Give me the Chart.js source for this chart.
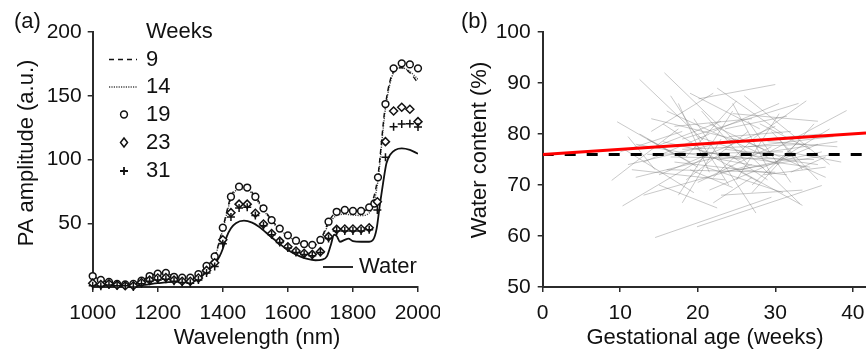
<!DOCTYPE html>
<html>
<head>
<meta charset="utf-8">
<script src="https://cdn.jsdelivr.net/npm/chart.js@4.4.0/dist/chart.umd.min.js"></script>
<style>
html, body { margin: 0; padding: 0; background: #fff; }
#wrap { position: relative; width: 866px; height: 352px; overflow: hidden; }
#boxA { position: absolute; left: 0; top: 0; width: 440px; height: 352px; }
#boxB { position: absolute; left: 440px; top: 0; width: 426px; height: 352px; }
</style>
</head>
<body>
<div id="wrap">
  <div id="boxA"><canvas id="chartA"></canvas></div>
  <div id="boxB"><canvas id="chartB"></canvas></div>
</div>
<script>
// ---- Panel (a): PA spectra ----
const wavelengths = [1000, 1025, 1050, 1075, 1100, 1125, 1150, 1175, 1200, 1225, 1250, 1275, 1300, 1325, 1350, 1375,
    1400, 1425, 1450, 1475, 1500, 1525, 1550, 1575, 1600, 1625, 1650, 1675, 1700, 1725, 1750, 1775, 1800, 1825, 1850,
    1875, 1900, 1925, 1950, 1975, 2000];
const weekLabels = ['9', '14', '19', '23', '31'];
const xTicksA = [1000, 1200, 1400, 1600, 1800, 2000];
const yTicksA = [50, 100, 150, 200];

const week9 = [8.6, 5.5, 4, 2.5, 2, 2.5, 5, 8.6, 10.5, 11, 8, 7.3, 7.3, 10, 16.5, 24,
    46.5, 70.8, 78.7, 78, 70.8, 61.7, 52.5, 45.8, 40.5, 36.3, 33.7, 33, 36.9, 51.2, 59, 60.4, 59.6, 59.6, 62.5,
    84, 143, 169, 172, 168, 160];
const week14 = [8, 5, 3.5, 2.5, 2, 2.5, 4.5, 8, 10, 10.5, 7.5, 7, 7, 9.5, 16, 23.5,
    45, 69, 77, 76.5, 69.5, 60.5, 51.5, 45, 40, 36, 33, 32.5, 36, 49, 56, 57, 56.5, 56, 58,
    80, 140, 168, 172, 169, 163];

// week 19 has two samples around 1870 nm
const wavelengths19 = [1000, 1025, 1050, 1075, 1100, 1125, 1150, 1175, 1200, 1225, 1250, 1275, 1300, 1325, 1350, 1375,
    1400, 1425, 1450, 1475, 1500, 1525, 1550, 1575, 1600, 1625, 1650, 1675, 1700, 1725, 1750, 1775, 1800, 1825, 1850,
    1866, 1877, 1900, 1925, 1950, 1975, 2000];
const week19 = [8.6, 5.5, 4, 2.5, 2, 2.5, 5, 8.6, 10.5, 11, 8, 7.3, 7.3, 10, 16.5, 24,
    46.5, 70.8, 78.7, 78, 70.8, 61.7, 52.5, 45.8, 40.5, 36.3, 33.7, 33, 36.9, 51.2, 59, 60.4, 59.6, 59.6, 62.5,
    65.5, 86, 143.5, 171.5, 175.4, 174.6, 171.5];
const week23 = [3, 2, 2.5, 1.5, 1, 1, 3.5, 5.5, 7, 7.5, 5.5, 4.5, 4.5, 7, 13, 19,
    37, 58.3, 65, 65, 57.8, 49.4, 42, 36, 31.6, 28.2, 26.4, 25.6, 27.7, 39.5, 45.2, 45.5, 45.5, 45.5, 46.5,
    66.9, 114, 138, 141, 139.4, 129.7];
const week31 = [1, 0.5, 1.5, 1, 1, 0, 2.5, 4.5, 5.5, 6, 4.5, 3.5, 3, 5.5, 11, 16,
    34, 55, 62, 62.5, 56, 48, 41, 35, 30.5, 27, 25.5, 24.5, 27, 38, 44, 44, 44, 44, 45,
    60.4, 101.7, 125.7, 127.8, 128, 125.5];

const waterWavelengths = [1000, 1050, 1100, 1150, 1200, 1250, 1300, 1325, 1350, 1362, 1375, 1390, 1400, 1412, 1425,
    1440, 1465, 1490, 1510, 1550, 1600, 1637, 1660, 1685, 1705, 1720, 1732, 1742, 1750, 1760, 1775, 1786, 1800, 1825,
    1850, 1862, 1873, 1883, 1893, 1903, 1915, 1930, 1950, 1975, 2000];
const water = [2, 1.5, 1, 1.5, 3, 4, 4, 6, 12, 14.6, 18, 24, 30, 39.5, 46,
    50, 52, 50.5, 47.5, 39, 29, 24, 22, 21, 21.5, 24, 33, 41, 40, 35.5, 37, 38, 36, 35.5,
    35.5, 37, 46, 65, 82, 97, 104, 107.5, 108.7, 107.5, 104.5];

// ---- Panel (b): water content vs gestational age ----
const xTicksB = [0, 10, 20, 30, 40];
const yTicksB = [50, 60, 70, 80, 90, 100];
// one grey segment per subject: start (week, %) -> end (week, %)
const segStartWeek = [14.5, 19.9, 10.3, 12.5, 15.7, 20.1, 28.0, 8.9, 9.6, 16.5, 22.5, 24.5, 18.0, 13.0, 11.0, 21.5, 26.0,
    17.0, 12.0, 19.5, 23.0, 15.0, 25.5, 14.0, 20.5, 27.0, 16.0, 10.5, 22.0, 18.5, 29.0, 13.5, 24.0, 17.5, 21.0, 11.5,
    26.5, 19.0, 15.5, 23.5, 12.5, 28.5, 20.0, 16.5, 25.0, 14.0, 22.5, 18.0, 27.5, 13.0, 21.0, 24.5, 10.0, 30.0, 17.0,
    23.0, 15.0, 26.0, 19.5, 12.0, 28.0, 20.5, 16.0, 24.0, 31.5, 18.5, 22.0, 14.5, 25.5, 20.0, 17.5, 27.0, 13.5, 23.5,
    29.5, 19.0, 21.5, 26.5, 15.5, 32.0, 18.0, 24.5, 11.0, 30.5, 22.0];
const segStartWater = [59.7, 61.8, 65.9, 90.7, 92.0, 86.9, 75.5, 70.9, 82.4, 87.5, 89.0, 84.0, 79.0, 68.0, 74.0, 69.0, 87.5,
    74.5, 78.0, 83.0, 72.5, 72.0, 79.0, 80.5, 76.5, 68.5, 84.5, 77.0, 80.5, 71.0, 78.5, 76.0, 74.0, 68.0, 78.0, 73.0,
    82.5, 88.0, 78.5, 77.0, 80.0, 72.0, 70.5, 75.5, 71.0, 83.0, 75.0, 66.5, 79.5, 74.5, 73.5, 86.0, 76.5, 74.5, 81.5,
    68.0, 70.0, 76.0, 77.5, 71.5, 82.0, 84.5, 73.0, 79.5, 76.5, 75.5, 71.5, 77.5, 73.0, 79.5, 86.0, 70.0, 79.0, 81.0,
    80.5, 73.0, 82.0, 77.5, 82.0, 72.5, 77.0, 75.5, 79.5, 79.0, 66.5];
const segEndWeek = [29.5, 36.0, 21.0, 20.7, 33.2, 30.0, 39.2, 17.5, 16.9, 24.0, 31.0, 35.5, 33.0, 27.0, 25.0, 35.5, 37.0,
    31.5, 28.5, 27.5, 37.5, 30.0, 36.5, 22.0, 34.5, 35.0, 29.0, 19.5, 30.5, 26.5, 38.0, 31.0, 33.5, 24.5, 36.0, 23.5,
    32.0, 28.0, 25.5, 32.5, 20.0, 36.5, 29.5, 35.0, 30.5, 26.0, 38.0, 23.0, 34.0, 21.5, 31.0, 29.5, 18.0, 37.0, 27.0,
    33.5, 22.5, 35.5, 28.0, 24.0, 34.5, 26.5, 30.0, 32.0, 38.5, 25.0, 27.5, 23.0, 36.0, 30.5, 21.5, 33.0, 19.0, 31.5,
    35.5, 24.5, 28.5, 37.5, 20.5, 36.5, 34.0, 29.0, 14.5, 33.5, 27.0];
const segEndWater = [67.6, 69.9, 75.5, 78.8, 66.3, 89.7, 84.6, 81.0, 76.0, 70.0, 80.0, 82.5, 86.0, 74.0, 79.0, 78.0, 74.0,
    72.0, 73.5, 64.5, 76.0, 81.5, 71.5, 88.0, 73.5, 82.0, 75.5, 68.5, 86.0, 80.5, 77.5, 76.5, 66.0, 84.5, 80.0, 71.0,
    70.5, 81.0, 75.0, 75.5, 73.5, 73.5, 77.5, 75.0, 84.0, 78.5, 78.5, 79.0, 86.5, 80.0, 68.5, 72.0, 80.5, 81.0, 83.0,
    69.0, 65.5, 74.0, 70.5, 76.0, 77.0, 74.0, 72.5, 80.5, 74.5, 86.5, 79.5, 82.5, 76.5, 74.0, 72.5, 78.5, 74.5, 83.5,
    71.0, 69.5, 77.0, 79.5, 77.0, 75.5, 78.0, 71.0, 73.0, 73.0, 71.5];

const fitWeeks = [0, 41.7];
const fitWater = [76, 80.2];
const refWater = [76, 76];

// ---- shared helpers ----
const FONT = "'Liberation Sans', Arial, sans-serif";
const INK = '#111';
const AXIS = '#2b2b2b';

function toPoints(xs, ys) {
    return xs.map((x, i) => ({ x: x, y: ys[i] }));
}

// fixed axis sizes so the plot area sits where the figure has it
function axis(opts) {
    return {
        type: 'linear',
        min: opts.min,
        max: opts.max,
        grid: { drawOnChartArea: false, drawTicks: true, tickLength: 5, color: AXIS, lineWidth: 1.5 },
        border: { display: true, color: AXIS, width: 2 },
        ticks: {
            color: INK, padding: opts.pad, autoSkip: false, maxRotation: 0,
            font: { family: FONT, size: 21 },
            callback: v => String(v)
        },
        afterBuildTicks: (s) => { s.ticks = opts.ticks.map(v => ({ value: v })); },
        afterFit: (s) => {
            if (opts.width !== undefined) s.width = opts.width;
            if (opts.height !== undefined) s.height = opts.height;
            s.paddingLeft = 0; s.paddingRight = 0; s.paddingTop = 0; s.paddingBottom = 0;
        }
    };
}

function drawMarker(ctx, kind, x, y) {
    ctx.save();
    ctx.strokeStyle = INK;
    ctx.fillStyle = '#fff';
    ctx.lineWidth = 1.5;
    ctx.setLineDash([]);
    if (kind === 'circle') {
        ctx.beginPath(); ctx.arc(x, y, 3.4, 0, Math.PI * 2); ctx.fill(); ctx.stroke();
    } else if (kind === 'diamond') {
        ctx.beginPath();
        ctx.moveTo(x, y - 4.5); ctx.lineTo(x + 3.5, y); ctx.lineTo(x, y + 4.5); ctx.lineTo(x - 3.5, y);
        ctx.closePath(); ctx.fill(); ctx.stroke();
    } else if (kind === 'plus') {
        ctx.lineWidth = 1.8;
        ctx.beginPath();
        ctx.moveTo(x - 4, y); ctx.lineTo(x + 4, y); ctx.moveTo(x, y - 4); ctx.lineTo(x, y + 4);
        ctx.stroke();
    }
    ctx.restore();
}

function text(ctx, str, x, y, size, align, rotate) {
    ctx.save();
    ctx.fillStyle = INK;
    ctx.font = size + 'px ' + FONT;
    ctx.textAlign = align;
    ctx.textBaseline = 'middle';
    ctx.translate(x, y);
    if (rotate) ctx.rotate(-Math.PI / 2);
    ctx.fillText(str, 0, 0);
    ctx.restore();
}

// Panel (a) labels and legend
const panelAText = {
    id: 'panelAText',
    afterDraw(chart) {
        const ctx = chart.ctx;
        text(ctx, '(a)', 14, 22, 22, 'left');
        text(ctx, 'PA amplitude (a.u.)', 27, 153, 22, 'center', true);
        text(ctx, 'Wavelength (nm)', 257, 338, 22, 'center');

        text(ctx, 'Weeks', 146, 32, 22, 'left');
        const rowY = [59.5, 87, 114.5, 142.5, 171];
        const kinds = ['dash', 'dot', 'circle', 'diamond', 'plus'];
        weekLabels.forEach((lab, i) => {
            const y = rowY[i];
            if (kinds[i] === 'dash' || kinds[i] === 'dot') {
                ctx.save();
                ctx.strokeStyle = kinds[i] === 'dash' ? INK : '#444';
                ctx.lineWidth = kinds[i] === 'dash' ? 1.6 : 1.4;
                ctx.setLineDash(kinds[i] === 'dash' ? [5, 4] : [1.2, 1.2]);
                ctx.beginPath(); ctx.moveTo(109, y); ctx.lineTo(137, y); ctx.stroke();
                ctx.restore();
            } else {
                drawMarker(ctx, kinds[i], 124, y);
            }
            text(ctx, lab, 146, y, 22, 'left');
        });

        ctx.save();
        ctx.strokeStyle = INK; ctx.lineWidth = 1.8;
        ctx.beginPath(); ctx.moveTo(323, 267); ctx.lineTo(353, 267); ctx.stroke();
        ctx.restore();
        text(ctx, 'Water', 359, 267, 22, 'left');
    }
};

// Panel (b) labels
const panelBText = {
    id: 'panelBText',
    afterDraw(chart) {
        const ctx = chart.ctx;
        text(ctx, '(b)', 21, 22, 22, 'left');
        text(ctx, 'Water content (%)', 40, 150, 22, 'center', true);
        text(ctx, 'Gestational age (weeks)', 265, 338, 22, 'center');
    }
};

Chart.defaults.font.family = FONT;
Chart.defaults.color = INK;

const lineBase = { pointRadius: 0, fill: false, cubicInterpolationMode: 'monotone', borderColor: INK };
const markerBase = { showLine: false, clip: false, borderColor: INK, backgroundColor: '#fff', pointBorderWidth: 1.5 };

new Chart(document.getElementById('chartA'), {
    type: 'line',
    data: {
        datasets: [
            Object.assign({ label: '31', data: toPoints(wavelengths, week31), pointStyle: 'cross', pointRadius: 4, pointBorderWidth: 1.8 }, markerBase),
            Object.assign({ label: '23', data: toPoints(wavelengths, week23), pointStyle: 'rectRot', pointRadius: 4 }, markerBase),
            Object.assign({ label: '19', data: toPoints(wavelengths19, week19), pointStyle: 'circle', pointRadius: 3.4 }, markerBase),
            Object.assign({ label: '9', data: toPoints(wavelengths, week9), borderWidth: 1.4, borderDash: [5, 4] }, lineBase),
            Object.assign({ label: '14', data: toPoints(wavelengths, week14), borderWidth: 1.4, borderDash: [1.2, 1.2] }, lineBase, { borderColor: '#444' }),
            Object.assign({ label: 'Water', data: toPoints(waterWavelengths, water), borderWidth: 1.8 }, lineBase)
        ]
    },
    options: {
        responsive: true,
        maintainAspectRatio: false,
        animation: false,
        devicePixelRatio: 1,
        layout: { padding: { left: 0, top: 32, right: 22, bottom: 0 } },
        plugins: { legend: { display: false }, tooltip: { enabled: false } },
        scales: {
            x: axis({ min: 1000, max: 2000, ticks: xTicksA, pad: 9, height: 65 }),
            y: axis({ min: 0, max: 200, ticks: yTicksA, pad: 6, width: 92.7 })
        }
    },
    plugins: [panelAText]
});

const segmentSets = segStartWeek.map((w, i) => ({
    data: [{ x: w, y: segStartWater[i] }, { x: segEndWeek[i], y: segEndWater[i] }],
    borderColor: 'rgba(120,120,120,0.5)',
    borderWidth: 0.8,
    pointRadius: 0,
    fill: false
}));

new Chart(document.getElementById('chartB'), {
    type: 'line',
    data: {
        datasets: [
            { label: 'fit', data: toPoints(fitWeeks, fitWater), borderColor: '#ff0000', borderWidth: 3, pointRadius: 0 },
            { label: 'reference', data: toPoints(fitWeeks, refWater), borderColor: '#000', borderWidth: 3, borderDash: [11, 11], pointRadius: 0 }
        ].concat(segmentSets)
    },
    options: {
        responsive: true,
        maintainAspectRatio: false,
        animation: false,
        devicePixelRatio: 1,
        layout: { padding: { left: 0, top: 32, right: 0, bottom: 0 } },
        plugins: { legend: { display: false }, tooltip: { enabled: false } },
        scales: {
            x: axis({ min: 0, max: 41.7, ticks: xTicksB, pad: 9, height: 65 }),
            y: axis({ min: 50, max: 100, ticks: yTicksB, pad: 7, width: 102.7 })
        }
    },
    plugins: [panelBText]
});
</script>
</body>
</html>
